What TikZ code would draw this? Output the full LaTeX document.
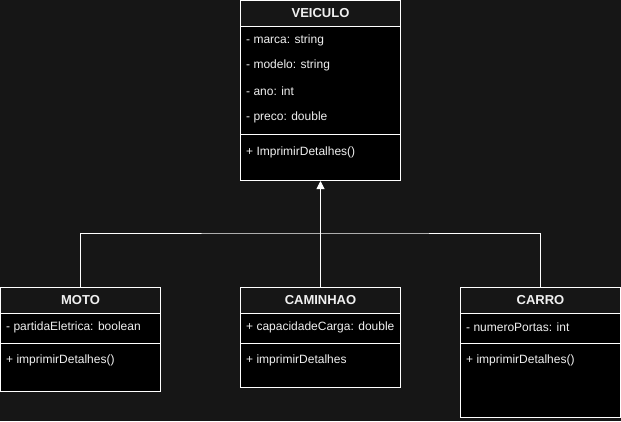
\documentclass[tikz,border=0pt]{standalone}
\usepackage{fontspec}
\setmainfont{Liberation Sans}
\usepackage{tikz}
\usetikzlibrary{arrows.meta}

\definecolor{bgdark}{HTML}{161616}
\definecolor{linegray}{HTML}{F0F0F0}

\tikzset{
    classbody/.style={draw=white, fill=black, line width=1pt, inner sep=0pt, anchor=north west},
    classhead/.style={draw=white, fill=bgdark, line width=1pt, inner sep=0pt, anchor=north west, font=\fontsize{13}{15}\selectfont\bfseries, text=linegray},
    member/.style={anchor=west, inner sep=0pt, font=\fontsize{12}{14}\selectfont, text=linegray},
    conn/.style={draw=white, line width=1pt}
}

\begin{document}
\begin{tikzpicture}[x=1pt, y=-1pt]
                    \fill[bgdark] (0,0) rectangle (621,421);
                    \useasboundingbox (0,0) rectangle (621,421);
                    % Veiculo
                    \node[classbody, minimum width=160pt, minimum height=180pt] (veiculo) at (240,0) {};
                    \node[classhead, minimum width=160pt, minimum height=26pt] (veiculohead) at (240,0) {VEICULO};
                    \node[member] (marca) at (246,40) {- marca: string};
                    \node[member] (modelo) at (246,65) {- modelo: string};
                    \node[member] (ano) at (246,91) {- ano: int};
                    \node[member] (preco) at (246,117) {- preco: double};
                    \draw[conn] (240,134) -- (400,134);
                    \node[member] (veiculoprint) at (246,152) {+ ImprimirDetalhes()};
                    % Moto
                    \node[classbody, minimum width=160pt, minimum height=104pt] (moto) at (0,287) {};
                    \node[classhead, minimum width=160pt, minimum height=26pt] (motohead) at (0,287) {MOTO};
                    \node[member] (partida) at (6,327) {- partidaEletrica: boolean};
                    \draw[conn] (0,343) -- (160,343);
                    \node[member] (motoprint) at (6,360) {+ imprimirDetalhes()};
                    % Caminhao
                    \node[classbody, minimum width=160pt, minimum height=100pt] (caminhao) at (240,287) {};
                    \node[classhead, minimum width=160pt, minimum height=26pt] (caminhaohead) at (240,287) {CAMINHAO};
                    \node[member] (carga) at (246,327) {+ capacidadeCarga: double};
                    \draw[conn] (240,343) -- (400,343);
                    \node[member] (caminhaoprint) at (246,360) {+ imprimirDetalhes};
                    % Carro
                    \node[classbody, minimum width=160pt, minimum height=130pt] (carro) at (460,287) {};
                    \node[classhead, minimum width=160pt, minimum height=26pt] (carrohead) at (460,287) {CARRO};
                    \node[member] (portas) at (466,327) {- numeroPortas: int};
                    \draw[conn] (460,343) -- (620,343);
                    \node[member] (carroprint) at (466,360) {+ imprimirDetalhes()};
                    % heranca
                    \coordinate (joint) at (320,233);
                    \draw[conn, -{Triangle[width=8pt, length=8pt]}] (caminhaohead.north) -- (veiculo.south);
                    \draw[conn] (motohead.north) |- (joint) -| (carrohead.north);
                \end{tikzpicture}
\end{document}
